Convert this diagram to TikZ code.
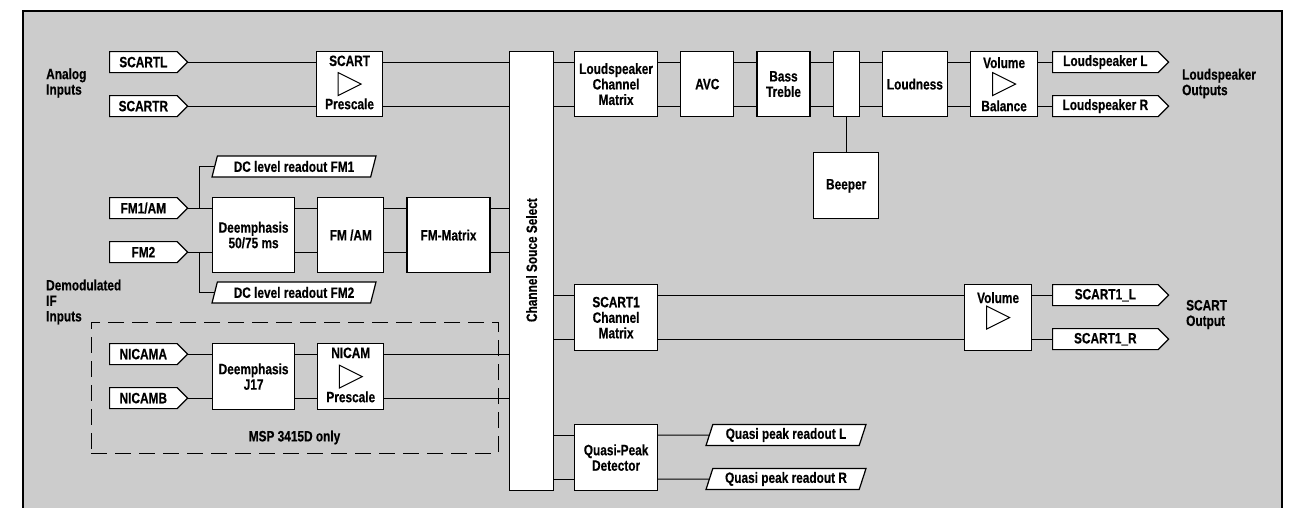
\documentclass[tikz,border=0pt]{standalone}
\usepackage{fontspec}
\setmainfont{Liberation Sans}[FakeStretch=0.79,FakeBold=0.4]
\usepackage{xcolor}
\definecolor{diabg}{HTML}{CCCCCC}
\usetikzlibrary{positioning,shapes.symbols,shapes.geometric,calc}
\newcommand\diafont{\fontsize{15}{15.5}\selectfont\bfseries}
\tikzset{
  dbox/.style={draw,fill=white,line width=1.2pt,inner sep=0pt,align=center,font=\diafont},
  dtag/.style={draw,fill=white,line width=1.2pt,inner sep=0pt,font=\diafont,signal,signal to=east,signal pointer angle=90,minimum height=21pt},
  dread/.style={draw,fill=white,line width=1.2pt,inner sep=0pt,font=\diafont,trapezium,trapezium left angle=64,trapezium right angle=116,trapezium stretches body,minimum height=21pt},
  dnote/.style={inner sep=0pt,align=left,font=\diafont},
  dline/.style={line width=1pt},
  amp/.pic={\draw[line width=1pt] (-11.5,-11.5) -- (11.5,0) -- (-11.5,11.5) -- cycle;},
}
\begin{document}
\begin{tikzpicture}[x=1pt,y=-1pt,node distance=22pt]
\useasboundingbox (0,0) rectangle (1294,507);
\clip (0,0) rectangle (1294,507);
\draw[fill=diabg,line width=2.5pt] (23,11) rectangle (1282,540);

% analog inputs
\node[dnote,anchor=west] (ain) at (46,83) {Analog\\Inputs};
\node[dtag,minimum width=78pt,anchor=north west] (scartl) at (109,51) {SCARTL};
\node[dtag,minimum width=78pt,anchor=north west] (scartr) at (109,95) {SCARTR};
\node[dbox,minimum width=66pt,minimum height=65pt,anchor=north west] (scpre) at (316,51) {};
\node[dnote,anchor=base] (scpret) at ([yshift=-15pt]scpre.north) {SCART};
\node[dnote,anchor=base] (scpreb) at ([yshift=8pt]scpre.south) {Prescale};
\pic at (scpre.center) {amp};

% source select
\node[dbox,minimum width=44pt,minimum height=439pt,anchor=north west] (css) at (509,51) {};
\node[dnote,rotate=90] (csst) at ([yshift=11pt]css.center) {Channel Souce Select};

% loudspeaker path
\node[dbox,minimum width=83pt,minimum height=65pt,anchor=north west] (lcm) at (574,51) {Loudspeaker\\Channel\\Matrix};
\node[dbox,minimum width=53pt,minimum height=65pt,right=of lcm] (avc) {AVC};
\node[dbox,minimum width=53pt,minimum height=65pt,right=of avc] (bt) {Bass\\Treble};
\node[dbox,minimum width=26pt,minimum height=65pt,right=of bt] (mix) {};
\node[dbox,minimum width=65pt,minimum height=65pt,right=of mix] (loud) {Loudness};
\node[dbox,minimum width=67pt,minimum height=65pt,right=of loud] (vol) {};
\node[dnote,anchor=base] (volt) at ([yshift=-17pt]vol.north) {Volume};
\node[dnote,anchor=base] (volb) at ([yshift=6pt]vol.south) {Balance};
\pic at (vol.center) {amp};
\node[dbox,minimum width=65pt,minimum height=66pt,below=35pt of mix] (beep) {Beeper};
\node[dtag,minimum width=116pt,anchor=north west] (lsl) at (1052,51) {Loudspeaker L};
\node[dtag,minimum width=116pt,anchor=north west] (lsr) at (1052,95) {Loudspeaker R};
\node[dnote,anchor=west] (lout) at (1182,83.5) {Loudspeaker\\Outputs};

% demodulated inputs
\node[dnote,anchor=west] (din) at (46,302) {Demodulated\\IF\\Inputs};
\node[dtag,minimum width=78pt,anchor=north west] (fm1) at (109,197) {FM1/AM};
\node[dtag,minimum width=78pt,anchor=north west] (fm2) at (109,241) {FM2};
\node[dbox,minimum width=82pt,minimum height=75pt,anchor=north west] (deem) at (212,197) {Deemphasis\\50/75 ms};
\node[dbox,minimum width=66pt,minimum height=75pt,right=of deem] (fmam) {FM /AM};
\node[dbox,minimum width=83pt,minimum height=75pt,right=of fmam] (fmx) {FM-Matrix};
\node[dread,minimum width=164pt] (dc1) at (294,166.5) {DC level readout FM1};
\node[dread,minimum width=164pt] (dc2) at (294,292.5) {DC level readout FM2};

% nicam
\node[draw,line width=1pt,dash pattern=on 16pt off 8pt,minimum width=407pt,minimum height=131pt,inner sep=0pt] (msp) at (294.5,387.5) {};
\node[dnote] (mspt) at ([yshift=16pt]msp.south) {MSP 3415D only};
\node[dtag,minimum width=78pt,anchor=north west] (nicama) at (109,343) {NICAMA};
\node[dtag,minimum width=78pt,anchor=north west] (nicamb) at (109,387) {NICAMB};
\node[dbox,minimum width=82pt,minimum height=66pt,anchor=north west] (dj17) at (212,343) {Deemphasis\\J17};
\node[dbox,minimum width=66pt,minimum height=66pt,right=of dj17] (npre) {};
\node[dnote,anchor=base] (npret) at ([yshift=-15pt]npre.north) {NICAM};
\node[dnote,anchor=base] (npreb) at ([yshift=8pt]npre.south) {Prescale};
\pic at (npre.center) {amp};

% scart output
\node[dbox,minimum width=83pt,minimum height=66pt,anchor=north west] (scm) at (574,284) {SCART1\\Channel\\Matrix};
\node[dbox,minimum width=67pt,minimum height=66pt,anchor=north west] (vol2) at (964,284) {};
\node[dnote,anchor=base] (vol2t) at ([yshift=-19pt]vol2.north) {Volume};
\pic at (vol2.center) {amp};
\node[dtag,minimum width=116pt,anchor=north west] (s1l) at (1052,284) {SCART1\_L};
\node[dtag,minimum width=116pt,anchor=north west] (s1r) at (1052,328) {SCART1\_R};
\node[dnote,anchor=west] (sout) at (1186,314.5) {SCART\\Output};

% quasi peak
\node[dbox,minimum width=83pt,minimum height=66pt,anchor=north west] (qpd) at (574,424) {Quasi-Peak\\Detector};
\node[dread,minimum width=160pt] (qpl) at (786,435) {Quasi peak readout L};
\node[dread,minimum width=160pt] (qpr) at (786,479) {Quasi peak readout R};

% connectors
\draw[dline] (scartl.east) -- (scartl.east -| scpre.west);
\draw[dline] (scartr.east) -- (scartr.east -| scpre.west);
\foreach \a/\b in {scpre/css,css/lcm,lcm/avc,avc/bt,bt/mix,mix/loud,loud/vol}{
  \draw[dline] (\a.east |- scartl) -- (\b.west |- scartl);
  \draw[dline] (\a.east |- scartr) -- (\b.west |- scartr);
}
\draw[dline] (vol.east |- lsl) -- (lsl.west);
\draw[dline] (vol.east |- lsr) -- (lsr.west);
\draw[dline] (mix.south) -- (mix.south |- beep.north);

\draw[dline] (fm1.east) -- (fm1.east -| deem.west);
\draw[dline] (fm2.east) -- (fm2.east -| deem.west);
\foreach \a/\b in {deem/fmam,fmam/fmx,fmx/css}{
  \draw[dline] (\a.east |- fm1) -- (\b.west |- fm1);
  \draw[dline] (\a.east |- fm2) -- (\b.west |- fm2);
}
\coordinate (br1) at ($(fm1.east)!0.45!(fm1.east -| deem.west)$);
\coordinate (br2) at ($(fm2.east)!0.45!(fm2.east -| deem.west)$);
\draw[dline] (br1) |- (dc1.west);
\draw[dline] (br2) |- (dc2.west);

\draw[dline] (nicama.east) -- (nicama.east -| dj17.west);
\draw[dline] (nicamb.east) -- (nicamb.east -| dj17.west);
\foreach \a/\b in {dj17/npre,npre/css}{
  \draw[dline] (\a.east |- nicama) -- (\b.west |- nicama);
  \draw[dline] (\a.east |- nicamb) -- (\b.west |- nicamb);
}

\foreach \a/\b in {css/scm,scm/vol2}{
  \draw[dline] (\a.east |- s1l) -- (\b.west |- s1l);
  \draw[dline] (\a.east |- s1r) -- (\b.west |- s1r);
}
\draw[dline] (vol2.east |- s1l) -- (s1l.west);
\draw[dline] (vol2.east |- s1r) -- (s1r.west);

\draw[dline] (css.east |- qpl) -- (qpd.west |- qpl);
\draw[dline] (css.east |- qpr) -- (qpd.west |- qpr);
\draw[dline] (qpd.east |- qpl) -- (qpl.west);
\draw[dline] (qpd.east |- qpr) -- (qpr.west);
\end{tikzpicture}
\end{document}
